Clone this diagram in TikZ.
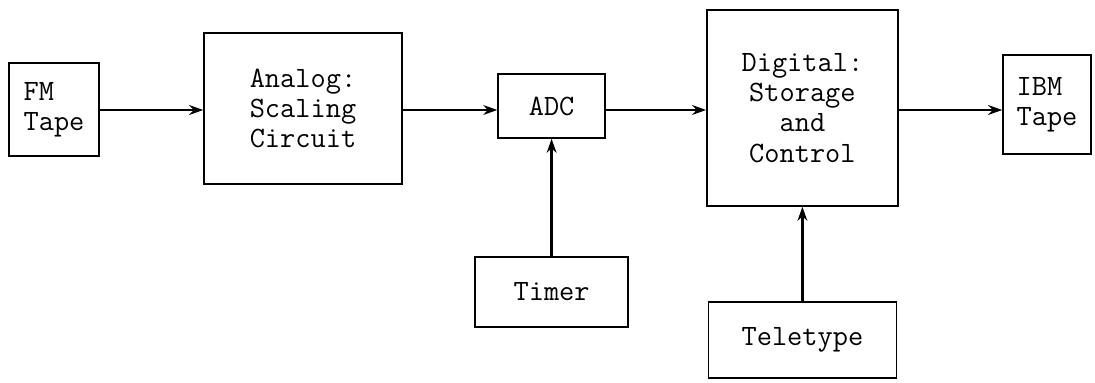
\documentclass[tikz,border=0pt]{standalone}
\usepackage{fontspec}
\usetikzlibrary{arrows.meta}
\tikzset{
  blockbox/.style={draw,line width=1.1pt,inner sep=0pt,align=center,
    font=\ttfamily\fontsize{21}{21.5}\selectfont},
  flow/.style={line width=1.6pt,-{Stealth[length=10pt,width=7pt]}}
}
\begin{document}
\begin{tikzpicture}
\useasboundingbox (0,0) rectangle (27.375,9.55);
\node[blockbox,minimum width=2.25cm,minimum height=2.325cm,align=left] (FM) at (1.35,6.81) {FM\\Tape};
\node[blockbox,minimum width=4.95cm,minimum height=3.775cm] (Analog) at (7.575,6.84) {Analog:\\Scaling\\Circuit};
\node[blockbox,minimum width=2.675cm,minimum height=1.6cm] (ADC) at (13.79,6.9) {ADC};
\node[blockbox,minimum width=3.825cm,minimum height=1.75cm] (Timer) at (13.79,2.25) {Timer};
\node[blockbox,minimum width=4.775cm,minimum height=4.9cm] (Digital) at (20.06,6.85) {Digital:\\Storage\\and\\Control};
\node[blockbox,minimum width=4.7cm,minimum height=1.9cm] (Teletype) at (20.06,1.05) {Teletype};
\node[blockbox,minimum width=2.2cm,minimum height=2.475cm,align=left] (IBM) at (26.175,6.94) {IBM\\Tape};
\coordinate (row) at (0,6.8);
\draw[flow] (FM.east |- row) -- (Analog.west |- row);
\draw[flow] (Analog.east |- row) -- (ADC.west |- row);
\draw[flow] (ADC.east |- row) -- (Digital.west |- row);
\draw[flow] (Digital.east |- row) -- (IBM.west |- row);
\draw[flow] (Timer) -- (ADC);
\draw[flow] (Teletype) -- (Digital);
\end{tikzpicture}
\end{document}
